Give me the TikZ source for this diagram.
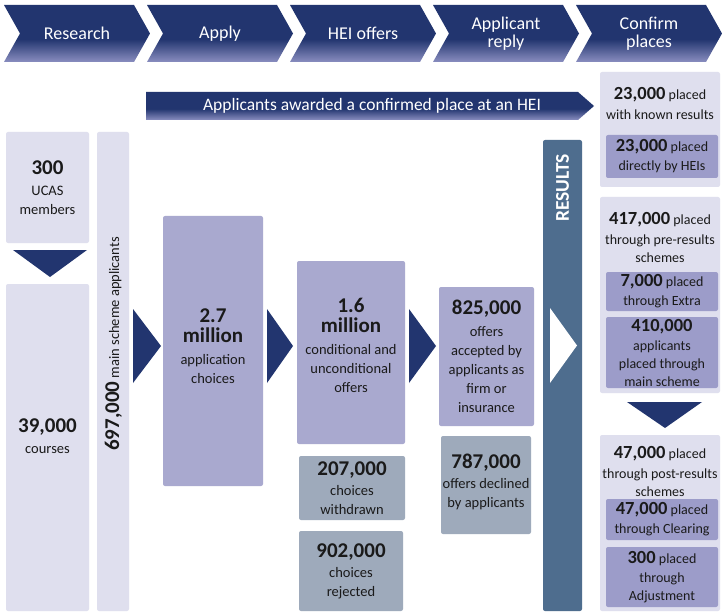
\documentclass[tikz,border=0pt]{standalone}
\usepackage{fontspec}
\setmainfont{Carlito}

\definecolor{navy}{HTML}{22356F}
\definecolor{navylight}{HTML}{8A8EC0}
\definecolor{boxlight}{HTML}{DFDFEE}
\definecolor{boxmid}{HTML}{A9A9CF}
\definecolor{boxinner}{HTML}{9C9CC9}
\definecolor{boxgrey}{HTML}{9EAABB}
\definecolor{steel}{HTML}{4E6D8E}
\definecolor{ink}{HTML}{1A1A1A}

% navy band that fades to a lighter blue along its lower part
\pgfdeclareverticalshading{chevshade}{100bp}{color(0bp)=(navylight); color(25bp)=(navylight); color(45bp)=(navy); color(75bp)=(navy); color(100bp)=(navy)}

\newcommand\regfont{\fontsize{14.5}{19}\selectfont}
\newcommand\sregfont{\fontsize{14}{18}\selectfont}
\newcommand\headfont{\fontsize{18}{18}\selectfont}
\newcommand\bnum[1]{{\bfseries\fontsize{21}{21}\selectfont #1}}
\newcommand\snum[1]{{\bfseries\fontsize{18.5}{18.5}\selectfont #1}}

\tikzset{
  chevron/.style={shading=chevshade, draw=none},
  headtext/.style={text=white, font=\headfont, align=center, inner sep=0pt},
  panel/.style={rounded corners=2pt, inner sep=0pt, outer sep=0pt, anchor=north west, draw=none},
  lbox/.style={panel, fill=boxlight},
  mbox/.style={panel, fill=boxmid},
  ibox/.style={panel, fill=boxinner, text=ink, align=center, font=\sregfont},
  gbox/.style={panel, fill=boxgrey, text=ink, align=center, font=\regfont},
  txt/.style={text=ink, align=center, font=\regfont, inner sep=0pt},
  stxt/.style={text=ink, align=center, font=\sregfont, inner sep=0pt},
  pointer/.style={fill=navy, draw=none},
}

\begin{document}
\begin{tikzpicture}[x=1pt, y=-1pt]
\useasboundingbox (0,0) rectangle (722,612);
\fill[white] (0,0) rectangle (722,612);

% stage chevrons along the top
\foreach \x/\n/\t in {4/research/{Research}, 147/apply/{Apply}, 290/heioffers/{HEI offers},
                      433/reply/{Applicant\\reply}, 576/confirm/{Confirm\\places}} {
  \shade[chevron] (\x,5) -- ++(130,0) -- ++(16,28.5) -- ++(-16,28.5) -- ++(-130,0) -- ++(16,-28.5) -- cycle;
  \node[headtext] (h-\n) at (\x+73,33.5) {\t};
}

% banner
\shade[chevron] (146,92) -- (578,92) -- (594,106) -- (578,120) -- (146,120) -- cycle;
\node[headtext, font=\fontsize{17.5}{17.5}\selectfont] (banner) at (372,106) {Applicants awarded a confirmed place at an HEI};

% research column
\node[lbox, minimum width=83, minimum height=111, text=ink, align=center, font=\regfont] (ucas) at (6,132)
  {\bnum{300}\\[2pt]UCAS\\members};
\fill[pointer] (13,250) -- (87,250) -- (50,277) -- cycle;
\node[lbox, minimum width=83, minimum height=327] (courses) at (6,284) {};
\node[txt] (courses-t) at (47.5,436) {\bnum{39,000}\\[2pt]courses};

\node[lbox, minimum width=32, minimum height=479] (applicants) at (97,132) {};
\node[txt, rotate=90] (applicants-t) at (113.5,344) {\bnum{697,000} main scheme applicants};

% application choices
\fill[pointer] (133,309) -- (161,346) -- (133,383) -- cycle;
\node[mbox, minimum width=100, minimum height=270] (choices) at (163,216) {};
\node[txt] (choices-t) at (213,346) {\bnum{2.7}\\[1pt]\bnum{million}\\[3pt]application\\choices};

% offers
\fill[pointer] (267,309) -- (293,346) -- (267,383) -- cycle;
\node[mbox, minimum width=108, minimum height=183] (offers) at (297,261) {};
\node[txt] (offers-t) at (351,345) {\bnum{1.6}\\[1pt]\bnum{million}\\[3pt]conditional and\\unconditional\\offers};
\node[gbox, minimum width=106, minimum height=64] (withdrawn) at (299,456) {\bnum{207,000}\\[1pt]choices\\withdrawn};
\node[gbox, minimum width=104, minimum height=80] (rejected) at (299,531) {\bnum{902,000}\\[1pt]choices\\rejected};

% applicant replies
\fill[pointer] (409,309) -- (436,346) -- (409,383) -- cycle;
\node[mbox, minimum width=95, minimum height=139, text=ink, align=center, font=\regfont] (accepted) at (439,287)
  {\bnum{825,000}\\[3pt]offers\\accepted by\\applicants as\\firm or\\insurance};
\node[gbox, minimum width=90, minimum height=98] (declined) at (441,436) {};
\node[txt] (declined-t) at (486,482) {\bnum{787,000}\\[1pt]offers declined\\by applicants};

% results bar
\node[panel, fill=steel, minimum width=39, minimum height=471] (results) at (543,140) {};
\node[rotate=90, text=white, inner sep=0pt, font=\bfseries\fontsize{19.5}{19.5}\selectfont] (results-t) at (562.5,188) {RESULTS};
\fill[white] (550,308) -- (577,345.5) -- (550,383) -- cycle;

% confirmed places
\node[lbox, minimum width=120, minimum height=115] (known) at (600,72) {};
\node[stxt] (known-t) at (660,103) {\snum{23,000} placed\\[2pt]with known results};
\node[ibox, minimum width=112, minimum height=43] (direct) at (606,135) {\snum{23,000} placed\\[1pt]directly by HEIs};

\node[lbox, minimum width=120, minimum height=196] (pre) at (600,197) {};
\node[stxt] (pre-t) at (660,237) {\snum{417,000} placed\\[2pt]through pre-results\\schemes};
\node[ibox, minimum width=112, minimum height=39] (extra) at (606,272) {\snum{7,000} placed\\[1pt]through Extra};
\node[ibox, minimum width=112, minimum height=71] (mainscheme) at (606,317) {\snum{410,000}\\[1pt]applicants\\placed through\\main scheme};

\fill[pointer] (627,402) -- (702,402) -- (665,428) -- cycle;

\node[lbox, minimum width=120, minimum height=176] (post) at (600,435) {};
\node[stxt] (post-t) at (660,471) {\snum{47,000} placed\\[2pt]through post-results\\schemes};
\node[ibox, minimum width=112, minimum height=41] (clearing) at (606,499) {\snum{47,000} placed\\[1pt]through Clearing};
\node[ibox, minimum width=112, minimum height=60] (adjustment) at (606,547) {\snum{300} placed\\[1pt]through\\Adjustment};
\end{tikzpicture}
\end{document}
